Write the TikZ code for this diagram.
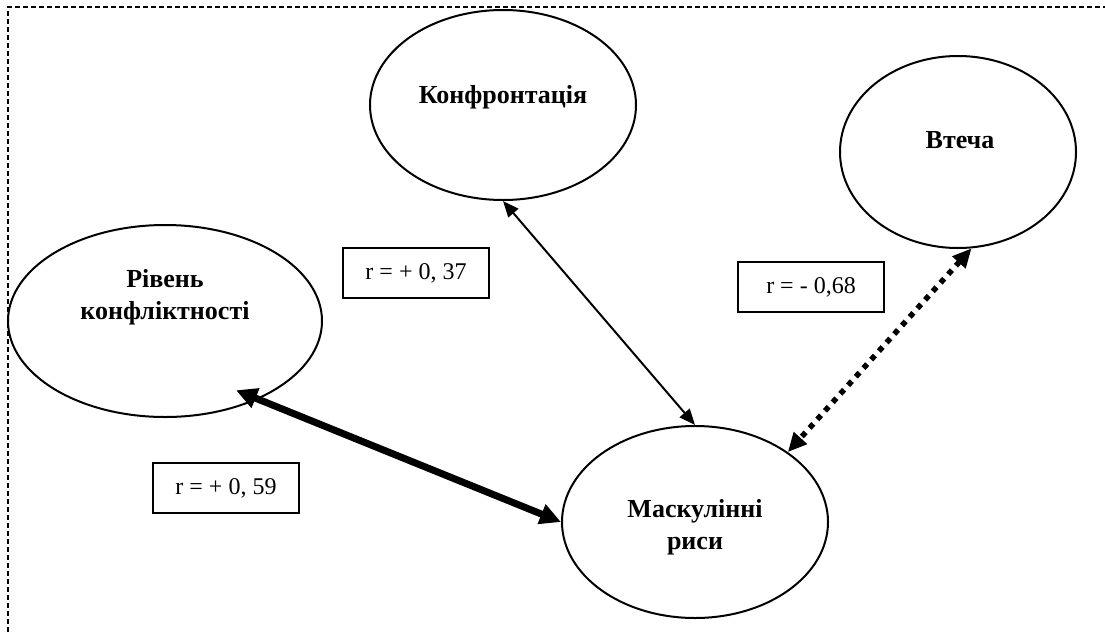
\documentclass[tikz,border=0pt]{standalone}
\usepackage{fontspec}
\setmainfont{Liberation Serif}
\usetikzlibrary{arrows.meta,shapes.geometric}
\tikzset{
  frame/.style={line width=1.5pt, dash pattern=on 5pt off 3pt},
  ell/.style={draw, ellipse, line width=2pt, inner sep=0pt},
  ellt/.style={font=\bfseries\fontsize{26}{32}\selectfont, align=center, inner sep=0pt},
  rbox/.style={draw, line width=1.7pt, minimum width=146pt, minimum height=50pt,
    inner sep=0pt, font=\fontsize{24}{28}\selectfont},
  thinarr/.style={line width=2pt,
    {Triangle[length=16pt,width=13pt]}-{Triangle[length=16pt,width=13pt]}},
  thickarr/.style={line width=7pt,
    {Triangle[length=21pt,width=20pt]}-{Triangle[length=21pt,width=20pt]}},
  dotarr/.style={line width=5.5pt, dash pattern=on 5.5pt off 6pt,
    {Triangle[length=19pt,width=17pt]}-{Triangle[length=19pt,width=17pt]}}
}
\begin{document}
\begin{tikzpicture}[x=1pt,y=-1pt]
\useasboundingbox (0,0) rectangle (1105,632);
% frame (top and left only)
\coordinate (fbl) at (8,632);
\coordinate (ftl) at (8,7);
\coordinate (ftr) at (1105,7);
\draw[frame] (fbl) -- (ftl) -- (ftr);
% ellipses
\node[ell, minimum width=266pt, minimum height=190pt] (konf) at (503,105) {};
\node[ellt] (konft) at (503,97) {Конфронтація};
\node[ell, minimum width=236pt, minimum height=192pt] (vt) at (958,152) {};
\node[ellt] (vtt) at (960,140) {Втеча};
\node[ell, minimum width=314pt, minimum height=192pt] (riv) at (165,321) {};
\node[ellt] (rivt) at (165,297) {Рівень\\конфліктності};
\node[ell, minimum width=266pt, minimum height=192pt] (mask) at (695,522) {};
\node[ellt] (maskt) at (695,527) {Маскулінні\\риси};
% correlation boxes
\node[rbox] (r1) at (416,273) {r = + 0, 37};
\node[rbox] (r2) at (811,287) {r = - 0,68};
\node[rbox] (r3) at (226,488) {r = + 0, 59};
% connectors
\draw[thinarr] (konf.south) -- (mask.north);
\draw[thickarr, shorten <=-24pt] (riv.-40) -- (mask.west);
\draw[dotarr] (vt.-82) -- (mask.37);
\end{tikzpicture}
\end{document}
